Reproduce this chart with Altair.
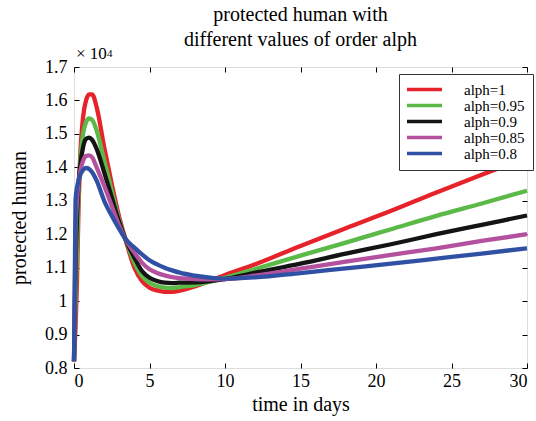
import altair as alt
import pandas as pd

times = [0, 0.1, 0.2, 0.3, 0.4, 0.6, 0.8, 1.0, 1.2, 1.5, 2.0, 2.5, 3.0, 3.4, 4.0, 4.5,
         5.0, 5.5, 6.0, 6.5, 7.0, 8.0, 9.0, 10, 12, 15, 18, 21, 24, 27, 30]

alph_1 = [0.82, 0.92, 1.06, 1.28, 1.42, 1.55, 1.60, 1.618, 1.618, 1.58, 1.46, 1.35, 1.25, 1.186,
          1.10, 1.06, 1.04, 1.032, 1.028, 1.028, 1.031, 1.044, 1.06, 1.078, 1.11, 1.165,
          1.218, 1.27, 1.325, 1.378, 1.43]
alph_095 = [0.82, 1.00, 1.15, 1.32, 1.41, 1.50, 1.535, 1.546, 1.542, 1.51, 1.42, 1.33, 1.24, 1.186,
            1.115, 1.075, 1.055, 1.045, 1.04, 1.039, 1.042, 1.048, 1.058, 1.07, 1.096, 1.136,
            1.175, 1.215, 1.255, 1.292, 1.33]
alph_09 = [0.82, 1.10, 1.25, 1.35, 1.40, 1.46, 1.485, 1.489, 1.482, 1.455, 1.385, 1.31, 1.235, 1.186,
           1.13, 1.09, 1.07, 1.06, 1.055, 1.054, 1.055, 1.056, 1.06, 1.066, 1.085, 1.112,
           1.142, 1.17, 1.20, 1.228, 1.256]
alph_085 = [0.82, 1.20, 1.30, 1.355, 1.385, 1.42, 1.434, 1.436, 1.43, 1.40, 1.345, 1.285, 1.225, 1.186,
            1.145, 1.115, 1.095, 1.084, 1.077, 1.072, 1.069, 1.066, 1.065, 1.066, 1.076, 1.097,
            1.118, 1.138, 1.158, 1.18, 1.20]
alph_08 = [0.82, 1.30, 1.34, 1.36, 1.375, 1.392, 1.398, 1.395, 1.385, 1.36, 1.30, 1.255, 1.215, 1.186,
           1.16, 1.14, 1.122, 1.11, 1.10, 1.092, 1.085, 1.076, 1.07, 1.067, 1.071, 1.084,
           1.098, 1.112, 1.127, 1.142, 1.158]

labels = ["alph=1", "alph=0.95", "alph=0.9", "alph=0.85", "alph=0.8"]
colors = ["#e6232a", "#5bb947", "#141414", "#b4519e", "#3050a3"]
x_ticks = [0, 5, 10, 15, 20, 25, 30]
y_ticks = [0.8, 0.9, 1.0, 1.1, 1.2, 1.3, 1.4, 1.5, 1.6, 1.7]

series = [alph_1, alph_095, alph_09, alph_085, alph_08]
rows = []
for i, (lab, vals) in enumerate(zip(labels, series)):
    for t, v in zip(times, vals):
        rows.append({"t": t, "v": v, "series": lab, "k": i})
df = pd.DataFrame(rows)

W, H = 453, 301
FONT = "Liberation Serif"
xs = alt.Scale(domain=[0, 30], nice=False)
ys = alt.Scale(domain=[0.8, 1.7], nice=False, zero=False)

color = alt.Color(
    "series:N",
    scale=alt.Scale(domain=labels, range=colors),
    legend=alt.Legend(
        orient="none", legendX=325, legendY=7, title=None,
        symbolType="M-3.5,0H3.5", symbolSize=100, symbolStrokeWidth=3.5,
        symbolOffset=10, labelOffset=32,
        labelFont=FONT, labelFontSize=15, labelColor="black",
        padding=8, rowPadding=0, strokeColor="#333333", fillColor="white",
        labelLimit=200,
    ),
)

lines = alt.Chart(df).mark_line(strokeWidth=4.3, interpolate="monotone").encode(
    x=alt.X("t:Q", scale=xs, axis=alt.Axis(
        values=x_ticks, title="time in days", ticks=False, domain=False, grid=False,
        labelFont=FONT, labelFontSize=18, labelColor="black", labelPadding=4,
        titleFont=FONT, titleFontSize=20, titleFontWeight="normal", titleColor="black",
        titlePadding=4)),
    y=alt.Y("v:Q", scale=ys, axis=alt.Axis(
        values=y_ticks, format="~g", title="protected human", ticks=False, domain=False,
        grid=False, labelFont=FONT, labelFontSize=18, labelColor="black", labelPadding=7,
        titleFont=FONT, titleFontSize=20, titleFontWeight="normal", titleColor="black",
        titlePadding=15)),
    color=color,
    detail="k:N",
)

tick_style = dict(labels=False, domain=False, grid=False, ticks=True, tickSize=5,
                  tickColor="black", title=None)

ticks_a = alt.Chart(df).mark_line(strokeOpacity=0).encode(
    x=alt.X("t:Q", scale=xs, axis=alt.Axis(values=x_ticks, orient="top", offset=-H, **tick_style)),
    y=alt.Y("v:Q", scale=ys, axis=alt.Axis(values=y_ticks, orient="right", offset=-W, **tick_style)),
)
ticks_b = alt.Chart(df).mark_line(strokeOpacity=0).encode(
    x=alt.X("t:Q", scale=xs, axis=alt.Axis(values=x_ticks, orient="bottom", offset=-H, **tick_style)),
    y=alt.Y("v:Q", scale=ys, axis=alt.Axis(values=y_ticks, orient="left", offset=-W, **tick_style)),
)

exp_base = alt.Chart(pd.DataFrame({"s": ["× 10"]})).mark_text(
    font=FONT, fontSize=17, align="left", baseline="alphabetic", color="black"
).encode(text="s:N", x=alt.value(2), y=alt.value(-8))
exp_pow = alt.Chart(pd.DataFrame({"s": ["4"]})).mark_text(
    font=FONT, fontSize=11, align="left", baseline="alphabetic", color="black"
).encode(text="s:N", x=alt.value(33), y=alt.value(-10))

chart = alt.layer(lines, ticks_a, ticks_b, exp_base, exp_pow).resolve_axis(
    x="independent", y="independent"
).properties(
    width=W, height=H,
    padding={"left": 74, "top": 67, "right": 9, "bottom": 53},
    autosize=alt.AutoSizeParams(type="none"),
    title=alt.Title(["protected human with", "different values of order alph"],
                    font=FONT, fontSize=20, fontWeight="normal", color="black",
                    anchor="middle", frame="group", offset=-5, lineHeight=25),
).configure_view(stroke="black", strokeWidth=1).configure(
    background="white", font=FONT
)

chart.save("out.html", embed_options={"renderer": "svg", "actions": False})
